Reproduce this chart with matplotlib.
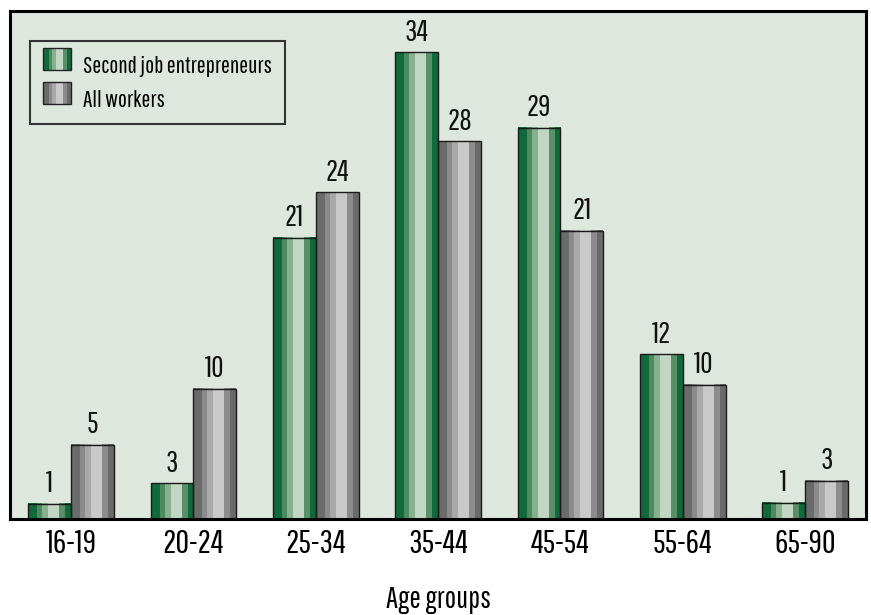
import numpy as np
import matplotlib
matplotlib.use('Agg')
import matplotlib.pyplot as plt
from matplotlib.patches import Rectangle
from matplotlib.colors import to_rgb

plt.rcParams['font.family'] = ['Pathway Gothic One', 'DejaVu Sans']

# data
age_groups = ['16-19', '20-24', '25-34', '35-44', '45-54', '55-64', '65-90']
second_job = [1.1, 2.6, 20.5, 34.0, 28.5, 12.0, 1.2]
all_workers = [5.4, 9.5, 23.8, 27.5, 21.0, 9.8, 2.8]
second_job_labels = [1, 3, 21, 34, 29, 12, 1]
all_workers_labels = [5, 10, 24, 28, 21, 10, 3]

# stripe colours (left to right) and relative widths
green_stripes = ['#106a3b', '#4e8a5f', '#86b08e', '#c1d7c4', '#5a9068', '#106a3b']
gray_stripes = ['#6b6b6b', '#8b8b8b', '#a9a9a9', '#c9c9c9', '#8c8c8c', '#6a6a6a']
stripe_w = [9, 5, 6, 11, 6, 6]


def stripe_image(colors):
    cols = []
    for c, w in zip(colors, stripe_w):
        cols += [to_rgb(c)] * w
    return np.array([cols])


class StripeHandler:
    def __init__(self, colors):
        self.colors = colors

    def legend_artist(self, legend, orig_handle, fontsize, handlebox):
        x0, y0 = handlebox.xdescent, handlebox.ydescent
        w, h = handlebox.width, handlebox.height
        total = sum(stripe_w)
        x = x0
        for c, sw in zip(self.colors, stripe_w):
            r = Rectangle((x, y0), w * sw / total, h, facecolor=c, edgecolor='none',
                          transform=handlebox.get_transform())
            handlebox.add_artist(r)
            x += w * sw / total
        border = Rectangle((x0, y0), w, h, facecolor='none', edgecolor='#222222', lw=1,
                           transform=handlebox.get_transform())
        handlebox.add_artist(border)
        return border


fig = plt.figure(figsize=(8.71, 6.15), dpi=100)
ax = fig.add_axes([0.0115, 0.156, 0.983, 0.826])
ax.set_facecolor('#dee7de')

x = np.arange(len(age_groups))
w = 0.35
b1 = ax.bar(x - w / 2, second_job, w, facecolor='none', edgecolor='#1a1a1a', lw=1, zorder=3,
            label='Second job entrepreneurs')
b2 = ax.bar(x + w / 2, all_workers, w, facecolor='none', edgecolor='#1a1a1a', lw=1, zorder=3,
            label='All workers')

img_g = stripe_image(green_stripes)
img_k = stripe_image(gray_stripes)
for bars, img in [(b1, img_g), (b2, img_k)]:
    for p in bars:
        ax.imshow(img, extent=(p.get_x(), p.get_x() + p.get_width(), 0, p.get_height()),
                  aspect='auto', interpolation='nearest', zorder=2)

for bars, labs in [(b1, second_job_labels), (b2, all_workers_labels)]:
    for p, v in zip(bars, labs):
        ax.annotate(str(v), (p.get_x() + p.get_width() / 2, p.get_height()),
                    xytext=(0, 4), textcoords='offset points', ha='center', va='bottom',
                    fontsize=22, color='#111111')

ax.set_xlim(-0.5, len(age_groups) - 0.5)
ax.set_ylim(0, 37)
ax.set_xticks(x)
ax.set_xticklabels(age_groups, fontsize=24)
ax.tick_params(axis='x', length=0, pad=7)
ax.set_yticks([])
for s in ax.spines.values():
    s.set_linewidth(2.2)
    s.set_color('black')
ax.set_xlabel('Age groups', fontsize=22, labelpad=19)

leg = ax.legend(handles=[b1, b2], loc='upper left', bbox_to_anchor=(0.0234, 0.941),
                borderaxespad=0, fontsize=17,
                handler_map={b1: StripeHandler(green_stripes), b2: StripeHandler(gray_stripes)},
                handlelength=1.2, handleheight=1.05, handletextpad=0.5, labelspacing=0.45,
                borderpad=0.55, fancybox=False, framealpha=1)
leg.get_frame().set_facecolor('#dee7de')
leg.get_frame().set_edgecolor('#333333')
leg.get_frame().set_linewidth(1.5)

fig.savefig('out.png', dpi=100)
